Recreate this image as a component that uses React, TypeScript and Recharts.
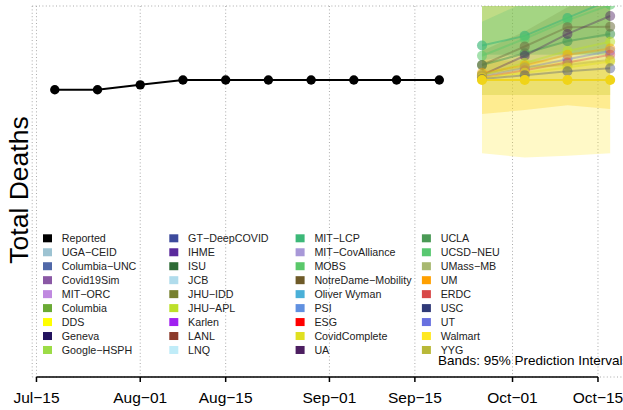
import { ComposedChart, Line, Area, XAxis, YAxis, CartesianGrid, ReferenceLine } from "recharts";

const FONT = "'Liberation Sans', Arial, Helvetica, sans-serif";

// days counted from Jul-15
const dayOf = (md: string) =>
  (Date.UTC(2020, Number(md.slice(0, 2)) - 1, Number(md.slice(3))) - Date.UTC(2020, 6, 15)) / 86400000;

const tickDates = ["07-15", "08-01", "08-15", "09-01", "09-15", "10-01", "10-15"];
const tickLabels = ["Jul−15", "Aug−01", "Aug−15", "Sep−01", "Sep−15", "Oct−01", "Oct−15"];
const gridValues = [0, 20, 40, 60];

const reportedDates = ["07-18", "07-25", "08-01", "08-08", "08-15", "08-22", "08-29", "09-05", "09-12", "09-19"];
const reportedDeaths = [56, 56, 57, 58, 58, 58, 58, 58, 58, 58];

const forecastDates = ["09-26", "10-03", "10-10", "10-17"];

// point forecasts
const walmartPoint = [58, 58, 58, 58];
const uclaPoint = [61.1, 63.5, 66, 67.5];
const mitLcpPoint = [65.1, 67.1, 70.8, 74.5];
const mobsPoint = [63, 66.5, 70.3, 73.5];
const jhuIddPoint = [61.1, 64.9, 68.9, 69];
const uaPoint = [59, 63, 67.5, 71.2];
const jhuAplPoint = [59, 61.5, 64, 65.9];
const utPoint = [58.8, 60.5, 62.3, 64];
const umPoint = [59.5, 61, 63.2, 64.5];
const erdcPoint = [58.5, 60, 61.6, 63.2];
const covidCompletePoint = [58.5, 59.5, 60.6, 61.8];
const yygPoint = [59.2, 60.7, 61.1, 62.2];
const uscPoint = [58.2, 59, 59.8, 60.4];

// 95% prediction intervals
const walmartLow = [42.9, 42, 42.4, 42.9];
const walmartHigh = [80, 80, 80, 80];
const covidCompleteLow = [51, 51.8, 52.8, 52];
const covidCompleteHigh = [62, 62, 62, 62];
const yygLow = [54.9, 54.9, 54.9, 54.9];
const yygHigh = [63.2, 63.2, 63.2, 63.2];
const columbiaLow = [63.2, 63.2, 63.2, 63.2];
const columbiaHigh = [80, 80, 80, 80];
const jhuIddLow = [59, 61, 63, 64];
const jhuIddHigh = [64, 68, 73, 76];
const mitLcpLow = [62, 63.5, 66, 67];
const mitLcpHigh = [70, 74, 78, 80];

const legendNames = [
  "Reported", "UGA−CEID", "Columbia−UNC", "Covid19Sim", "MIT−ORC", "Columbia", "DDS", "Geneva", "Google−HSPH",
  "GT−DeepCOVID", "IHME", "ISU", "JCB", "JHU−IDD", "JHU−APL", "Karlen", "LANL", "LNQ",
  "MIT−LCP", "MIT−CovAlliance", "MOBS", "NotreDame−Mobility", "Oliver Wyman", "PSI", "ESG", "CovidComplete", "UA",
  "UCLA", "UCSD−NEU", "UMass−MB", "UM", "ERDC", "USC", "UT", "Walmart", "YYG",
];
const legendColors = [
  "#000000", "#9dc3d2", "#5068a8", "#8a58a5", "#c089e0", "#6aaa35", "#ffff00", "#23135e", "#9cdc46",
  "#3d4a9c", "#5a2a9c", "#2d6a35", "#b0dcec", "#77802e", "#bde02a", "#a020f0", "#8b3a2a", "#c0ecf8",
  "#3cb878", "#a898d8", "#5ac86a", "#6e5a28", "#4ab0d8", "#6090e0", "#ff0000", "#e0e020", "#4c1e60",
  "#4a9a55", "#58c870", "#a8b870", "#ffa000", "#d84848", "#303a78", "#6870e0", "#ffe820", "#b8b838",
];

const bands = [
  { key: "walmartBand", low: walmartLow, high: walmartHigh, color: "#ffe820", opacity: 0.25 },
  { key: "covidCompleteBand", low: covidCompleteLow, high: covidCompleteHigh, color: "#fbd52a", opacity: 0.35 },
  { key: "yygBand", low: yygLow, high: yygHigh, color: "#c3c223", opacity: 0.3 },
  { key: "columbiaBand", low: columbiaLow, high: columbiaHigh, color: "#72b838", opacity: 0.45 },
  { key: "jhuIddBand", low: jhuIddLow, high: jhuIddHigh, color: "#77802e", opacity: 0.2 },
  { key: "mitLcpBand", low: mitLcpLow, high: mitLcpHigh, color: "#3cb878", opacity: 0.2 },
];

const lines = [
  { key: "mitLcp", values: mitLcpPoint, color: "#3cb878", opacity: 0.55 },
  { key: "mobs", values: mobsPoint, color: "#5ac86a", opacity: 0.45 },
  { key: "ucla", values: uclaPoint, color: "#4a9a55", opacity: 0.5 },
  { key: "jhuIdd", values: jhuIddPoint, color: "#6e7040", opacity: 0.45 },
  { key: "ua", values: uaPoint, color: "#4c1e60", opacity: 0.35 },
  { key: "jhuApl", values: jhuAplPoint, color: "#bde02a", opacity: 0.45 },
  { key: "ut", values: utPoint, color: "#6870e0", opacity: 0.35 },
  { key: "um", values: umPoint, color: "#ffa000", opacity: 0.35 },
  { key: "erdc", values: erdcPoint, color: "#d84848", opacity: 0.35 },
  { key: "yyg", values: yygPoint, color: "#b8b838", opacity: 0.4 },
  { key: "covidComplete", values: covidCompletePoint, color: "#e0e020", opacity: 0.45 },
  { key: "usc", values: uscPoint, color: "#303a78", opacity: 0.3 },
  { key: "walmart", values: walmartPoint, color: "#f0d418", opacity: 0.9 },
];

const tickDays = tickDates.map(dayOf);

const rows: any[] = [
  ...reportedDates.map((d, i) => ({ day: dayOf(d), reported: reportedDeaths[i] })),
  ...forecastDates.map((d, i) => {
    const row: any = { day: dayOf(d) };
    bands.forEach((b) => (row[b.key] = [b.low[i], b.high[i]]));
    lines.forEach((l) => (row[l.key] = l.values[i]));
    return row;
  }),
];

const X_MIN = -0.7;
const X_MAX = 100;
const Y_MIN = -3.24;
const Y_MAX = 73.26;

const DateTick = (props: any) => {
  const { x, y, payload } = props;
  const i = tickDays.indexOf(payload.value);
  return (
    <g>
      <line x1={x} y1={y} x2={x} y2={y + 5} stroke="#000" strokeWidth={1.5} />
      <text x={x} y={y + 25.5} textAnchor="middle" fontSize={15.5} fontFamily={FONT} fill="#000">
        {tickLabels[i]}
      </text>
    </g>
  );
};

export default function App() {
  return (
    <div style={{ position: "absolute", left: 0, top: 0, width: 623, height: 410, overflow: "hidden", background: "#fff" }}>
      <ComposedChart width={660} height={410} data={rows} margin={{ top: 6, right: 13.2, bottom: 0, left: 32.2 }}>
        <CartesianGrid stroke="#aaa" strokeDasharray="1 2.4" />
        <XAxis
          type="number"
          dataKey="day"
          domain={[X_MIN, X_MAX]}
          ticks={tickDays}
          interval={0}
          allowDataOverflow
          axisLine={false}
          tickLine={false}
          tickSize={0}
          tickMargin={0}
          height={33}
          tick={<DateTick />}
        />
        <YAxis
          type="number"
          domain={[Y_MIN, Y_MAX]}
          ticks={gridValues}
          allowDataOverflow
          axisLine={false}
          tickLine={false}
          tick={false}
          width={0}
        />
        {bands.map((b) => (
          <Area
            key={b.key}
            dataKey={b.key}
            type="linear"
            stroke="none"
            fill={b.color}
            fillOpacity={b.opacity}
            isAnimationActive={false}
            dot={false}
            activeDot={false}
          />
        ))}
        {lines.map((l) => (
          <Line
            key={l.key}
            dataKey={l.key}
            type="linear"
            stroke={l.color}
            strokeWidth={2}
            strokeOpacity={l.opacity}
            dot={{ r: 5, fill: l.color, fillOpacity: l.opacity + 0.1, stroke: "none" }}
            activeDot={false}
            isAnimationActive={false}
          />
        ))}
        <Line
          dataKey="reported"
          type="linear"
          stroke="#000"
          strokeWidth={2}
          dot={{ r: 4.7, fill: "#000", stroke: "none" }}
          activeDot={false}
          isAnimationActive={false}
        />
        <ReferenceLine
          segment={[{ x: tickDays[0], y: Y_MIN }, { x: tickDays[tickDays.length - 1], y: Y_MIN }]}
          stroke="#000"
          strokeWidth={1.5}
          ifOverflow="visible"
        />
      </ComposedChart>
      <svg width={623} height={410} style={{ position: "absolute", left: 0, top: 0, pointerEvents: "none" }}>
        <text transform="translate(28.3,190) rotate(-90)" textAnchor="middle" fontSize={26.5} fontFamily={FONT} fill="#000">
          Total Deaths
        </text>
        {legendNames.map((name, i) => {
          const col = Math.floor(i / 9);
          const row = i % 9;
          const x = 43 + col * 126.3;
          const cy = 238.3 + row * 13.96;
          return (
            <g key={name}>
              <rect x={x} y={cy - 4} width={9} height={8} fill={legendColors[i]} />
              <text x={x + 18.8} y={cy + 3.8} fontSize={10.7} fontFamily={FONT} fill="#222">
                {name}
              </text>
            </g>
          );
        })}
        <text x={438} y={364.8} fontSize={13.5} fontFamily={FONT} fill="#000">
          Bands: 95% Prediction Intervals
        </text>
      </svg>
    </div>
  );
}
